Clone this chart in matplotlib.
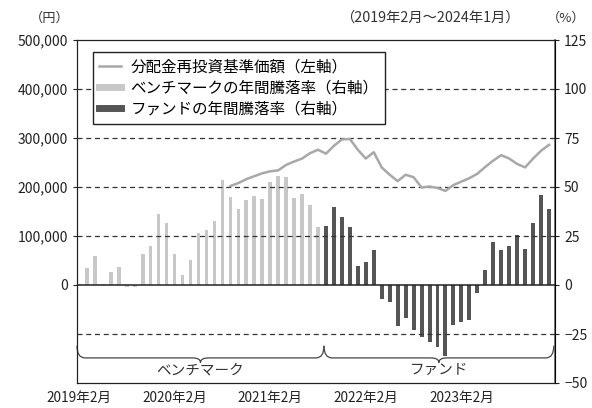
import matplotlib.pyplot as plt
import numpy as np
from matplotlib.path import Path
from matplotlib.patches import PathPatch
from matplotlib.lines import Line2D

plt.rcParams['font.family'] = ['Noto Sans CJK JP', 'DejaVu Sans']

# Annual returns (%) - benchmark Feb 2019 - Aug 2021, fund Sep 2021 - Jan 2024
bench_returns = [0.5, 8.6, 14.9, 0.5, 6.7, 9.0, -1.0, -1.0, 15.8, 20.0, 36.3, 31.4, 15.8,
                 5.2, 12.7, 26.5, 28.0, 32.4, 53.8, 45.0, 39.0, 43.4, 45.5, 43.7, 52.8,
                 55.5, 55.0, 44.6, 46.4, 40.6, 29.6]
fund_returns = [30.3, 39.9, 34.8, 29.8, 9.8, 11.5, 17.7, -7.0, -8.5, -21.0, -17.0, -23.0,
                -26.5, -29.0, -31.5, -36.0, -20.5, -18.8, -18.0, -4.2, 7.7, 21.9, 18.0,
                19.7, 25.3, 18.2, 31.8, 45.9, 39.0]
# NAV with dividends reinvested (yen), starting Sep 2020
nav_start = 19
nav = [202000, 208000, 216000, 222000, 228000, 232000, 234000, 245000, 252000, 258000,
       269000, 276000, 268000, 284000, 297000, 298000, 276000, 258000, 271000, 240000,
       225000, 212000, 225000, 220000, 199000, 201000, 198000, 192000, 204000, 211000,
       218000, 227000, 241000, 254000, 265000, 258000, 247000, 240000, 258000, 274000,
       286000]
tick_pos = [0, 12, 24, 36, 48]
tick_labels = ['2019年2月', '2020年2月', '2021年2月', '2022年2月', '2023年2月']

n_bench = len(bench_returns)
x_bench = np.arange(n_bench)
x_fund = np.arange(n_bench, n_bench + len(fund_returns))
x_nav = np.arange(nav_start, nav_start + len(nav))

fig = plt.figure(figsize=(5.92, 4.08), dpi=100)
ax = fig.add_axes([77 / 592, 25 / 408, 478 / 592, 343 / 408])
ax2 = ax.twinx()

# bars on right axis
ax2.bar(x_bench, bench_returns, width=0.45, color='#c8c8c8', zorder=2)
ax2.bar(x_fund, fund_returns, width=0.5, color='#555555', zorder=2)
ax2.set_ylim(-50, 125)
ax2.set_yticks([125, 100, 75, 50, 25, 0, -25, -50])
ax2.set_yticklabels(['125', '100', '75', '50', '25', '0', '−25', '−50'])

# line on left axis (drawn above bars)
ax.set_zorder(ax2.get_zorder() + 1)
ax.patch.set_visible(False)
ax.plot(x_nav, nav, color='#a8a8a8', lw=1.8, zorder=4)
ax.set_ylim(-200000, 500000)
ax.set_yticks([0, 100000, 200000, 300000, 400000, 500000])
ax.set_yticklabels(['0', '100,000', '200,000', '300,000', '400,000', '500,000'])
ax.set_xlim(-0.25, 59.75)
ax.set_xticks(tick_pos)
ax.set_xticklabels(tick_labels)

for y in [-100000, 100000, 200000, 300000, 400000]:
    ax.axhline(y, color='#333333', lw=0.9, ls=(0, (4, 3)), zorder=3)
ax.axhline(0, color='#222222', lw=1.1, zorder=3)

for a in (ax, ax2):
    a.tick_params(labelsize=10, length=3, width=0.8, colors='#222222')
ax.tick_params(axis='x', length=0, pad=6, labelsize=9.8)
for s in ['left', 'top', 'bottom']:
    ax.spines[s].set_color('#222222')
ax2.spines['right'].set_color('#666666')
ax2.spines['right'].set_linewidth(1.2)


# curly braces under the bars
def brace(x0, x1, y_top, y_base, y_tip):
    xm = (x0 + x1) / 2
    r = 1.0
    verts = [(x0, y_top), (x0, y_base), (x0 + r, y_base),
             (xm - r, y_base),
             (xm, y_base), (xm, y_tip),
             (xm, y_base), (xm + r, y_base),
             (x1 - r, y_base),
             (x1, y_base), (x1, y_top)]
    codes = [Path.MOVETO, Path.CURVE3, Path.CURVE3, Path.LINETO,
             Path.CURVE3, Path.CURVE3, Path.CURVE3, Path.CURVE3,
             Path.LINETO, Path.CURVE3, Path.CURVE3]
    ax2.add_patch(PathPatch(Path(verts, codes), fill=False, lw=0.9,
                            edgecolor='#444444', zorder=3, clip_on=False))
    return xm


xm1 = brace(-0.25, 30.75, -31, -37.2, -39.6)
xm2 = brace(30.75, 59.6, -31, -37.2, -39.6)
ax2.text(xm1, -43.5, 'ベンチマーク', ha='center', va='center', fontsize=10.5, color='#333333')
ax2.text(xm2, -43.5, 'ファンド', ha='center', va='center', fontsize=10.5, color='#333333')

handles = [Line2D([], [], color='#a8a8a8', lw=1.8),
           Line2D([], [], color='#c8c8c8', lw=5),
           Line2D([], [], color='#555555', lw=5)]
labels = ['分配金再投資基準価額（左軸）', 'ベンチマークの年間騰落率（右軸）', 'ファンドの年間騰落率（右軸）']
leg = ax.legend(handles, labels, loc='upper left', bbox_to_anchor=(0.0335, 0.965),
                borderaxespad=0, fontsize=11.2, frameon=True, fancybox=False,
                handlelength=1.4, handletextpad=0.6, labelspacing=0.28, borderpad=0.4)
leg.get_frame().set_edgecolor('#222222')
leg.get_frame().set_linewidth(1.0)
leg.get_frame().set_alpha(1)

fig.text(50 / 592, 1 - 18 / 408, '（円）', ha='center', va='center', fontsize=9.5, color='#333333')
fig.text(430 / 592, 1 - 18 / 408, '（2019年2月～2024年1月）', ha='center', va='center',
         fontsize=10.3, color='#333333')
fig.text(566 / 592, 1 - 18 / 408, '（%）', ha='center', va='center', fontsize=9.5, color='#333333')

fig.savefig('out.png', dpi=100)
